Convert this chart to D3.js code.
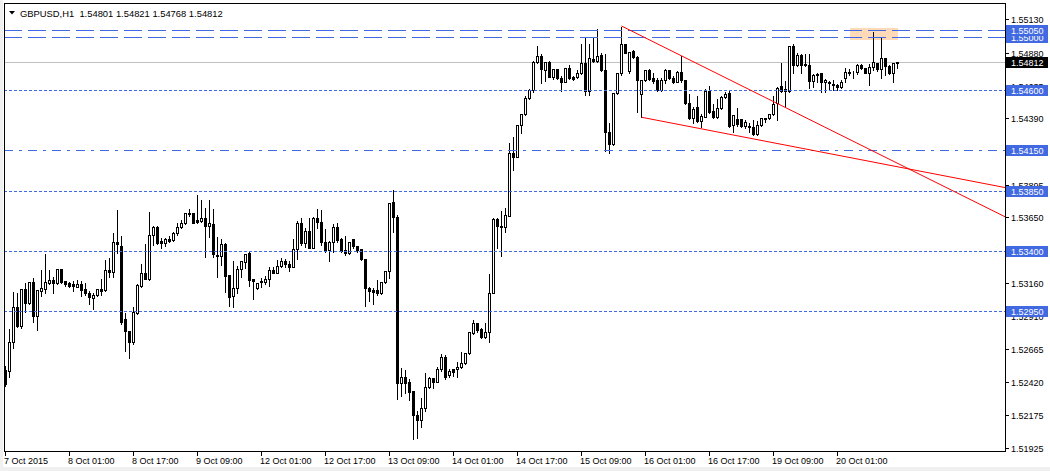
<!DOCTYPE html>
<html><head><meta charset="utf-8">
<script src="https://cdn.jsdelivr.net/npm/d3@7"></script>
<style>
html,body{margin:0;padding:0;background:#fff;}
svg{display:block;}
text{font-family:"Liberation Sans",Arial,sans-serif;}
</style></head><body>
<svg id="c" width="1050" height="471"></svg>
<script>
// ---------------- DATA ----------------
const symbolTitle = "GBPUSD,H1";
const headerOHLC = ["1.54801", "1.54821", "1.54768", "1.54812"];
const startTime = "2015-10-07T09:00:00";

const opens = [
1.52510,1.52505,1.52716,1.52978,1.52841,1.53115,1.53008,1.53165,1.52916,1.53102,
1.53115,1.53162,1.53182,1.53157,1.53264,1.53177,1.53157,1.53150,1.53132,1.53152,
1.53115,1.53082,1.53045,1.53070,1.53115,1.53107,1.53257,1.53244,1.53468,1.53438,
1.52888,1.52804,1.52716,1.52933,1.53137,1.53232,1.53187,1.53518,1.53575,1.53473,
1.53461,1.53486,1.53481,1.53531,1.53575,1.53605,1.53685,1.53685,1.53630,1.53625,
1.53643,1.53588,1.53600,1.53369,1.53364,1.53451,1.53219,1.53065,1.53120,1.53262,
1.53314,1.53381,1.53187,1.53120,1.53175,1.53170,1.53187,1.53257,1.53237,1.53289,
1.53324,1.53302,1.53282,1.53411,1.53605,1.53456,1.53548,1.53424,1.53643,1.53618,
1.53468,1.53406,1.53463,1.53580,1.53488,1.53406,1.53381,1.53488,1.53438,1.53411,
1.53337,1.53120,1.53107,1.53107,1.53082,1.53165,1.53249,1.53762,1.53650,1.52415,
1.52455,1.52418,1.52353,1.52174,1.52136,1.52228,1.52380,1.52447,1.52423,1.52515,
1.52604,1.52472,1.52515,1.52515,1.52530,1.52559,1.52634,1.52784,1.52858,1.52816,
1.52759,1.52796,1.53088,1.53638,1.53586,1.53581,1.53663,1.54128,1.54104,1.54341,
1.54420,1.54540,1.54602,1.54809,1.54856,1.54751,1.54814,1.54702,1.54756,1.54689,
1.54664,1.54764,1.54697,1.54697,1.54727,1.54801,1.54597,1.54834,1.54821,1.54864,
1.54751,1.54291,1.54196,1.54577,1.54727,1.54946,1.54747,1.54893,1.54851,1.54572,
1.54677,1.54751,1.54689,1.54677,1.54602,1.54677,1.54751,1.54689,1.54664,1.54739,
1.54677,1.54502,1.54390,1.54473,1.54373,1.54403,1.54597,1.54448,1.54398,1.54465,
1.54552,1.54577,1.54341,1.54385,1.54383,1.54333,1.54333,1.54323,1.54271,1.54341,
1.54395,1.54390,1.54420,1.54503,1.54632,1.54607,1.54597,1.54931,1.54789,1.54864,
1.54796,1.54789,1.54672,1.54722,1.54727,1.54664,1.54652,1.54647,1.54639,1.54622,
1.54689,1.54739,1.54739,1.54739,1.54789,1.54764,1.54732,1.54771,1.54801,1.54756,
1.54839,1.54784,1.54727,1.54801];

const highs = [
1.52547,1.52821,1.53100,1.53095,1.53125,1.53170,1.53170,1.53202,1.53112,1.53262,
1.53384,1.53262,1.53212,1.53269,1.53269,1.53182,1.53177,1.53182,1.53187,1.53182,
1.53170,1.53107,1.53095,1.53120,1.53194,1.53339,1.53351,1.53538,1.53710,1.53518,
1.52945,1.52808,1.52990,1.53157,1.53306,1.53456,1.53697,1.53593,1.53593,1.53501,
1.53501,1.53518,1.53548,1.53618,1.53635,1.53685,1.53717,1.53692,1.53824,1.53787,
1.53730,1.53787,1.53717,1.53511,1.53493,1.53468,1.53219,1.53331,1.53294,1.53331,
1.53381,1.53406,1.53187,1.53170,1.53207,1.53219,1.53287,1.53287,1.53336,1.53356,
1.53344,1.53331,1.53493,1.53630,1.53650,1.53580,1.53655,1.53660,1.53717,1.53710,
1.53568,1.53481,1.53610,1.53618,1.53506,1.53518,1.53476,1.53493,1.53443,1.53419,
1.53344,1.53137,1.53132,1.53187,1.53170,1.53257,1.53767,1.53859,1.53673,1.52530,
1.52515,1.52447,1.52360,1.52211,1.52310,1.52497,1.52465,1.52460,1.52542,1.52634,
1.52629,1.52522,1.52527,1.52579,1.52654,1.52639,1.52796,1.52888,1.52863,1.52833,
1.52871,1.53237,1.53650,1.53650,1.53705,1.53730,1.54216,1.54258,1.54348,1.54428,
1.54565,1.54615,1.54826,1.54938,1.54876,1.54814,1.54826,1.54764,1.54764,1.54714,
1.54776,1.54796,1.54714,1.54756,1.54956,1.55000,1.54956,1.55000,1.55068,1.54888,
1.54876,1.54366,1.54582,1.54739,1.55080,1.54956,1.54896,1.54906,1.54864,1.54682,
1.54756,1.54764,1.54739,1.54702,1.54697,1.54764,1.54756,1.54714,1.54751,1.54864,
1.54682,1.54582,1.54483,1.54565,1.54428,1.54615,1.54639,1.54503,1.54540,1.54565,
1.54597,1.54602,1.54420,1.54473,1.54390,1.54383,1.54366,1.54383,1.54378,1.54403,
1.54403,1.54428,1.54565,1.54632,1.54814,1.54677,1.54938,1.54956,1.54888,1.54881,
1.54881,1.54881,1.54727,1.54739,1.54739,1.54689,1.54677,1.54682,1.54652,1.54682,
1.54776,1.54764,1.54751,1.54801,1.54801,1.54776,1.54801,1.55045,1.54814,1.55005,
1.54846,1.54796,1.54814,1.54821];

const lows = [
1.52393,1.52460,1.52677,1.52833,1.52826,1.52945,1.53003,1.52871,1.52808,1.53062,
1.53082,1.53152,1.53087,1.53152,1.53157,1.53137,1.53127,1.53100,1.53127,1.53062,
1.53070,1.53000,1.52963,1.53062,1.53070,1.53102,1.53207,1.53202,1.53381,1.52853,
1.52654,1.52597,1.52704,1.52928,1.53132,1.53187,1.53182,1.53443,1.53451,1.53424,
1.53436,1.53468,1.53476,1.53518,1.53568,1.53600,1.53663,1.53605,1.53605,1.53618,
1.53356,1.53506,1.53356,1.53207,1.53294,1.53095,1.52988,1.52983,1.53087,1.53202,
1.53269,1.53137,1.53038,1.53115,1.53132,1.53152,1.53140,1.53232,1.53232,1.53282,
1.53282,1.53252,1.53277,1.53339,1.53443,1.53431,1.53419,1.53419,1.53568,1.53443,
1.53394,1.53326,1.53394,1.53468,1.53394,1.53369,1.53376,1.53419,1.53394,1.53331,
1.52988,1.53028,1.53003,1.53070,1.53077,1.53157,1.53199,1.53543,1.52291,1.52315,
1.52335,1.52286,1.51992,1.51999,1.52086,1.52206,1.52373,1.52373,1.52418,1.52505,
1.52442,1.52460,1.52467,1.52460,1.52522,1.52554,1.52629,1.52779,1.52791,1.52746,
1.52746,1.52721,1.53083,1.53419,1.53364,1.53543,1.53660,1.54004,1.54099,1.54278,
1.54415,1.54535,1.54590,1.54801,1.54652,1.54672,1.54697,1.54682,1.54682,1.54597,
1.54659,1.54684,1.54677,1.54689,1.54722,1.54565,1.54565,1.54809,1.54814,1.54744,
1.54149,1.54134,1.54191,1.54572,1.54714,1.54876,1.54727,1.54839,1.54440,1.54398,
1.54669,1.54677,1.54652,1.54597,1.54597,1.54652,1.54682,1.54652,1.54659,1.54659,
1.54498,1.54383,1.54353,1.54366,1.54328,1.54398,1.54433,1.54390,1.54390,1.54458,
1.54540,1.54323,1.54291,1.54333,1.54323,1.54316,1.54291,1.54266,1.54266,1.54336,
1.54361,1.54385,1.54415,1.54378,1.54590,1.54483,1.54590,1.54727,1.54781,1.54727,
1.54781,1.54615,1.54627,1.54664,1.54590,1.54590,1.54602,1.54602,1.54602,1.54615,
1.54664,1.54714,1.54689,1.54722,1.54756,1.54727,1.54639,1.54751,1.54746,1.54689,
1.54714,1.54722,1.54664,1.54768];

const closes = [
1.52405,1.52716,1.52978,1.52841,1.53115,1.53013,1.53165,1.52916,1.53107,1.53120,
1.53165,1.53182,1.53157,1.53264,1.53170,1.53152,1.53137,1.53137,1.53152,1.53107,
1.53087,1.53053,1.53070,1.53115,1.53102,1.53257,1.53244,1.53468,1.53448,1.52871,
1.52804,1.52716,1.52940,1.53145,1.53232,1.53192,1.53518,1.53580,1.53456,1.53461,
1.53486,1.53476,1.53536,1.53575,1.53610,1.53680,1.53673,1.53610,1.53618,1.53643,
1.53588,1.53610,1.53376,1.53364,1.53451,1.53214,1.53057,1.53120,1.53262,1.53324,
1.53374,1.53182,1.53177,1.53157,1.53165,1.53190,1.53257,1.53237,1.53289,1.53324,
1.53302,1.53282,1.53411,1.53605,1.53456,1.53548,1.53424,1.53643,1.53618,1.53468,
1.53406,1.53463,1.53580,1.53481,1.53399,1.53381,1.53468,1.53436,1.53406,1.53337,
1.53120,1.53102,1.53095,1.53082,1.53165,1.53249,1.53755,1.53650,1.52415,1.52455,
1.52415,1.52348,1.52174,1.52136,1.52228,1.52380,1.52447,1.52423,1.52515,1.52604,
1.52460,1.52502,1.52497,1.52530,1.52559,1.52634,1.52791,1.52858,1.52808,1.52754,
1.52796,1.53087,1.53638,1.53588,1.53576,1.53665,1.54128,1.54099,1.54341,1.54420,
1.54540,1.54602,1.54809,1.54856,1.54756,1.54809,1.54702,1.54756,1.54689,1.54664,
1.54764,1.54689,1.54684,1.54727,1.54801,1.54597,1.54839,1.54821,1.54856,1.54751,
1.54291,1.54196,1.54577,1.54727,1.54946,1.54881,1.54886,1.54846,1.54677,1.54677,
1.54751,1.54682,1.54669,1.54602,1.54677,1.54751,1.54689,1.54664,1.54739,1.54677,
1.54502,1.54390,1.54458,1.54373,1.54408,1.54597,1.54440,1.54398,1.54465,1.54547,
1.54572,1.54333,1.54415,1.54348,1.54333,1.54366,1.54323,1.54271,1.54341,1.54395,
1.54385,1.54420,1.54498,1.54615,1.54597,1.54597,1.54931,1.54789,1.54864,1.54789,
1.54786,1.54672,1.54714,1.54712,1.54664,1.54677,1.54664,1.54637,1.54622,1.54664,
1.54739,1.54732,1.54734,1.54789,1.54764,1.54732,1.54771,1.54809,1.54756,1.54839,
1.54784,1.54727,1.54801,1.54812];

const yTickValues = [1.51925,1.52175,1.52420,1.52665,1.52910,1.53160,1.53405,1.53650,1.53895,1.54145,1.54390,1.54635,1.54880,1.55130];
const priceLevels = [1.55000,1.55050,1.54600,1.54150,1.53850,1.53400,1.52950];
const currentPrice = 1.54812;
// trend lines: [barIndex1, price1, barIndex2, price2] (rays to the right)
const trendUpper = [154, 1.55080, 200, 1.54396];
const trendLower = [159, 1.54398, 200, 1.54161];
// rectangle zone: [fromBar, toBar, topPrice, bottomPrice]
const zone = [211, 223, 1.55065, 1.54975];

// ---------------- DRAWING ----------------
const W = 1050, H = 471;
const L = 4, R = 1005, T = 3, B = 451;
const BLUE = "#4169e1";
const svg = d3.select("#c");

svg.append("rect").attr("width", W).attr("height", H).attr("fill", "#fff");
svg.append("rect").attr("x", 0).attr("y", 467).attr("width", W).attr("height", 4).attr("fill", "#f0f0f0");
svg.append("rect").attr("x", 0).attr("y", 0).attr("width", 3).attr("height", H).attr("fill", "#f0f0f0");

const n = opens.length;
const x = d3.scaleLinear().domain([0, n - 1]).range([5.5, 5.5 + 4 * (n - 1)]);
const y = d3.scaleLinear().domain([1.51925, 1.55130]).range([448.2, 19.3]);
const py = v => Math.round(y(v)) + 0.5;

// bar times (hourly, trading days only)
const times = [];
let t = new Date(startTime);
while (times.length < n) {
  times.push(new Date(t));
  t = new Date(t.getTime() + 3600000);
  while (t.getDay() === 0 || t.getDay() === 6) t = new Date(t.getTime() + 3600000);
}

svg.append("defs").append("clipPath").attr("id", "plot")
  .append("rect").attr("x", L).attr("y", T).attr("width", R - L).attr("height", B - T);
const g = svg.append("g").attr("clip-path", "url(#plot)").attr("shape-rendering", "crispEdges");

// zone rectangle (background)
g.append("rect")
  .attr("x", x(zone[0])).attr("width", x(zone[1]) - x(zone[0]))
  .attr("y", y(zone[2])).attr("height", y(zone[3]) - y(zone[2]))
  .attr("fill", "#ffdab9");

// current price line
g.append("line").attr("x1", L).attr("x2", R).attr("y1", py(currentPrice)).attr("y2", py(currentPrice))
  .attr("stroke", "#c0c0c0").attr("stroke-width", 1);

// candles
const idx = d3.range(n);
const cg = g.append("g");
idx.forEach(i => {
  const o = opens[i], c = closes[i];
  const hi = Math.max(highs[i], o, c), lo = Math.min(lows[i], o, c);
  const cx = x(i);
  cg.append("line").attr("x1", cx).attr("x2", cx).attr("y1", py(hi)).attr("y2", py(lo) + 0.5)
    .attr("stroke", "#000").attr("stroke-width", 1);
  const top = py(Math.max(o, c)), bot = py(Math.min(o, c));
  cg.append("rect").attr("x", cx - 1).attr("width", 2)
    .attr("y", top).attr("height", Math.max(0, bot - top))
    .attr("fill", c >= o ? "#fff" : "#000").attr("stroke", "#000").attr("stroke-width", 1);
});

// horizontal price levels
const levelDash = {"1.55":"18,6","1.5505":"18,6","1.546":"3,2","1.5415":"9,6,3,6","1.5385":"3,2","1.534":"3,2","1.5295":"3,2"};
priceLevels.forEach(p => {
  g.append("line").attr("x1", L).attr("x2", R).attr("y1", py(p)).attr("y2", py(p))
    .attr("stroke", BLUE).attr("stroke-width", 1).attr("stroke-dasharray", levelDash[String(p)] || "3,2");
});

// trend rays
[trendUpper, trendLower].forEach(tl => {
  const x1 = x(tl[0]), y1 = y(tl[1]), x2 = x(tl[2]), y2 = y(tl[3]);
  const k = (y2 - y1) / (x2 - x1);
  g.append("line").attr("x1", x1).attr("y1", y1).attr("x2", R).attr("y2", y1 + k * (R - x1))
    .attr("stroke", "#ff0000").attr("stroke-width", 1).attr("shape-rendering", "auto");
});

// frame
svg.append("rect").attr("x", L + 0.5).attr("y", T + 0.5).attr("width", R - L).attr("height", B - T)
  .attr("fill", "none").attr("stroke", "#000").attr("shape-rendering", "crispEdges");

// y axis ticks
const ya = svg.append("g").attr("shape-rendering", "crispEdges");
yTickValues.forEach(v => {
  const yy = py(v);
  ya.append("line").attr("x1", R + 1).attr("x2", R + 4).attr("y1", yy).attr("y2", yy).attr("stroke", "#000");
  ya.append("text").attr("x", R + 6).attr("y", yy + 3.2).attr("font-size", "9px").attr("fill", "#000")
    .text(v.toFixed(5));
});

// x axis ticks
const fmtFirst = d3.timeFormat("%-d %b %Y"), fmt = d3.timeFormat("%-d %b %H:%M");
const xa = svg.append("g").attr("shape-rendering", "crispEdges");
idx.filter(i => i % 16 === 0).forEach(i => {
  const xx = x(i);
  xa.append("line").attr("x1", xx).attr("x2", xx).attr("y1", B + 1).attr("y2", B + 5).attr("stroke", "#000");
  xa.append("text").attr("x", xx - 1.5).attr("y", 464).attr("font-size", "9px").attr("fill", "#000")
    .text(i === 0 ? fmtFirst(times[i]) : fmt(times[i]));
});

// price level labels
function priceLabel(p, bg) {
  const yy = Math.round(y(p));
  svg.append("rect").attr("x", R + 1).attr("y", yy - 5).attr("width", 42).attr("height", 11)
    .attr("fill", bg).attr("shape-rendering", "crispEdges");
  svg.append("text").attr("x", R + 6).attr("y", yy + 3.7).attr("font-size", "9px").attr("fill", "#fff")
    .text(p.toFixed(5));
}
priceLevels.forEach(p => priceLabel(p, BLUE));
priceLabel(currentPrice, "#000");

// header
svg.append("path").attr("d", "M9,11 L15,11 L12,14.5 Z").attr("fill", "#000");
svg.append("text").attr("x", 20).attr("y", 16.5).attr("font-size", "9.4px").attr("fill", "#000")
  .attr("xml:space", "preserve").style("white-space", "pre")
  .text(symbolTitle + "  " + headerOHLC.join(" "));
</script>
</body></html>
